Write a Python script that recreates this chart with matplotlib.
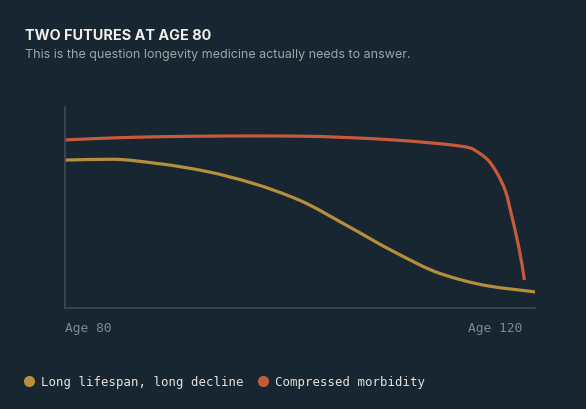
import matplotlib
matplotlib.use("Agg")
import matplotlib.pyplot as plt
import numpy as np
from matplotlib.lines import Line2D
from matplotlib.path import Path
from matplotlib.patches import PathPatch

# ---- data ----
ages_decline = [80, 84, 88, 92, 96, 100, 104, 108, 112, 116, 120]
health_decline = [73.6, 74.0, 71.8, 68.0, 62.0, 53.5, 41.0, 28.0, 17.0, 11.0, 8.0]

ages_compressed = [80, 84, 88, 92, 96, 100, 104, 108, 111, 113.2, 114.5,
                   115.3, 116, 116.7, 117.5, 118, 118.4, 118.9, 119.1]
health_compressed = [83.6, 84.6, 85.2, 85.5, 85.6, 85.5, 84.8, 83.6, 82.2,
                     80.9, 79.6, 76.9, 73.6, 67.8, 57.9, 46.3, 36.3, 21.4, 13.9]

series_labels = ["Long lifespan, long decline", "Compressed morbidity"]
tick_labels = ["Age 80", "Age 120"]
title = "TWO FUTURES AT AGE 80"
subtitle = "This is the question longevity medicine actually needs to answer."

# ---- style ----
BG = "#172630"
GOLD = "#b68f3d"
RED = "#c75a3c"
SPINE = "#3e4b53"
TICK = "#7f898e"
TITLE_C = "#f2efe8"
SUB_C = "#9ea5a8"
LEG_C = "#e6e3dc"
MONO = ["DejaVu Sans Mono"]
SANS = ["Inter", "DejaVu Sans"]


def monotone_path(xs, ys):
    """Cubic Bezier path through the points (monotone-x tangents)."""
    x = np.asarray(xs, float)
    y = np.asarray(ys, float)
    n = len(x)
    h = np.diff(x)
    d = np.diff(y) / h
    m = np.zeros(n)
    m[0], m[-1] = d[0], d[-1]
    for i in range(1, n - 1):
        if d[i - 1] * d[i] <= 0:
            m[i] = 0.0
        else:
            w1 = 2 * h[i] + h[i - 1]
            w2 = h[i] + 2 * h[i - 1]
            m[i] = (w1 + w2) / (w1 / d[i - 1] + w2 / d[i])
    verts = [(x[0], y[0])]
    codes = [Path.MOVETO]
    for i in range(n - 1):
        dx = h[i] / 3.0
        verts += [(x[i] + dx, y[i] + m[i] * dx),
                  (x[i + 1] - dx, y[i + 1] - m[i + 1] * dx),
                  (x[i + 1], y[i + 1])]
        codes += [Path.CURVE4] * 3
    return Path(verts, codes)


W, H = 586, 409
fig = plt.figure(figsize=(W / 100, H / 100), dpi=100, facecolor=BG)
ax = fig.add_axes([65 / W, (H - 308) / H, 470 / W, 201 / H], facecolor=BG)

for xs, ys, c in [(ages_decline, health_decline, GOLD),
                  (ages_compressed, health_compressed, RED)]:
    ax.add_patch(PathPatch(monotone_path(xs, ys), facecolor="none",
                           edgecolor=c, lw=2.3, capstyle="butt",
                           joinstyle="round"))

ax.set_xlim(80, 120)
ax.set_ylim(0, 100)
ax.set_xticks([])
ax.set_yticks([])
for s in ["top", "right"]:
    ax.spines[s].set_visible(False)
for s in ["left", "bottom"]:
    ax.spines[s].set_color(SPINE)
    ax.spines[s].set_linewidth(1.2)

# axis end labels
fig.text(65 / W, 1 - 332 / H, tick_labels[0], color=TICK, fontsize=9.3,
         family=MONO, ha="left", va="baseline")
fig.text(522 / W, 1 - 332 / H, tick_labels[1], color=TICK, fontsize=9.3,
         family=MONO, ha="right", va="baseline")

# title & subtitle
fig.text(25 / W, 1 - 40 / H, title, color=TITLE_C, fontsize=10.4,
         fontweight="bold", family=SANS, ha="left", va="baseline")
fig.text(25 / W, 1 - 58 / H, subtitle, color=SUB_C, fontsize=9.0,
         family=SANS, ha="left", va="baseline")

# legend
y_leg = 1 - 381 / H
fig.add_artist(Line2D([29 / W], [y_leg], marker="o", markersize=7,
                      color=GOLD, lw=0, transform=fig.transFigure))
fig.text(41 / W, 1 - 386 / H, series_labels[0], color=LEG_C, fontsize=8.9,
         family=MONO, ha="left", va="baseline")
fig.add_artist(Line2D([263 / W], [y_leg], marker="o", markersize=7,
                      color=RED, lw=0, transform=fig.transFigure))
fig.text(275 / W, 1 - 386 / H, series_labels[1], color=LEG_C, fontsize=8.9,
         family=MONO, ha="left", va="baseline")

fig.savefig("out.png", dpi=100, facecolor=BG)
